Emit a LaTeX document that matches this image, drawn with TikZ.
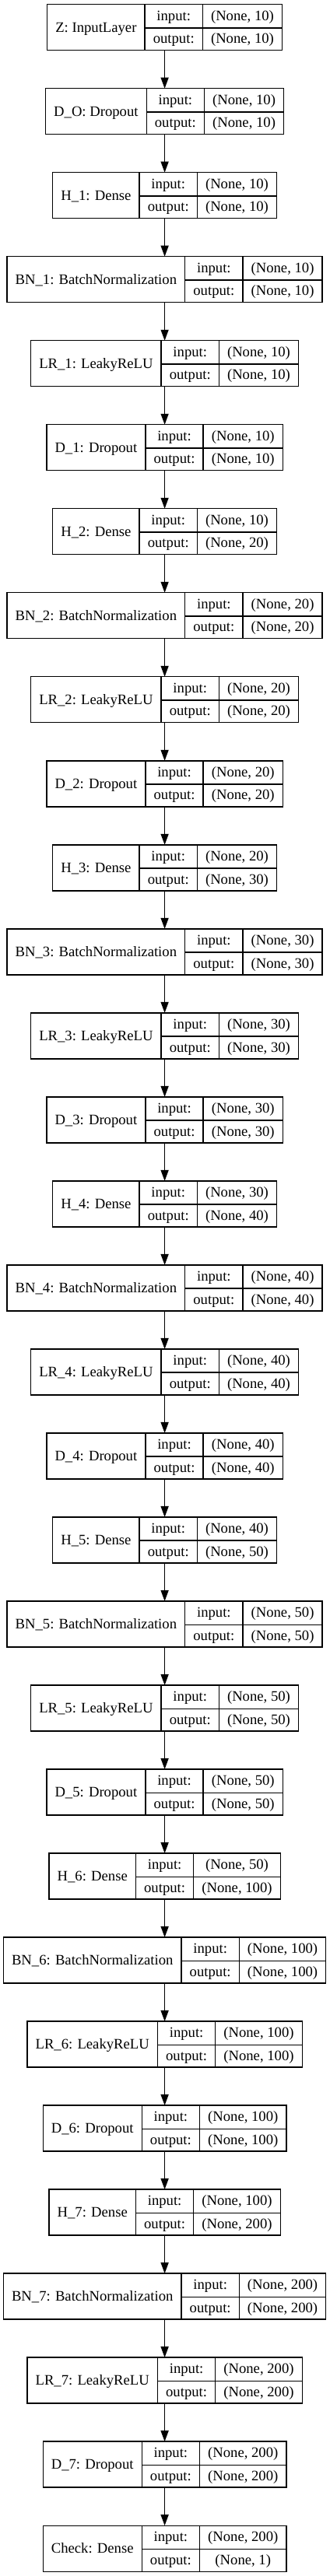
\documentclass[tikz,border=0pt]{standalone}
\usepackage{fontspec}
\setmainfont{Liberation Serif}
\usepackage{tikz}
\usetikzlibrary{positioning, arrows.meta}
\setlength{\arrayrulewidth}{1pt}
\setlength{\tabcolsep}{8pt}
\renewcommand{\arraystretch}{1.317}
% one keras layer: name | input/output | shapes
\newcommand{\kerasrec}[3]{%
  \begin{tabular}{c|c|c}
    \smash{\raisebox{-11.06pt}{#1}} & input: & #2\\ \cline{2-3}
    & output: & #3
  \end{tabular}}

\begin{document}
\begin{tikzpicture}[
  font=\fontsize{14}{16.8}\selectfont,
  node distance=36.76pt,
  layerbox/.style={draw=black, line width=1pt, inner sep=0pt, outer sep=0pt},
  flow/.style={-{Triangle[length=10.5pt, width=7.5pt]}, line width=1pt}
]
\useasboundingbox (-158.7pt,4.27pt) rectangle (159.3pt,-2478.98pt);

\node[layerbox, anchor=north] (z) at (0,0) {\kerasrec{Z: InputLayer}{(None, 10)}{(None, 10)}};
\node[layerbox, below=of z] (d0) {\kerasrec{D\_O: Dropout}{(None, 10)}{(None, 10)}};

\node[layerbox, below=of d0] (h1) {\kerasrec{H\_1: Dense}{(None, 10)}{(None, 10)}};
\node[layerbox, below=of h1] (bn1) {\kerasrec{BN\_1: BatchNormalization}{(None, 10)}{(None, 10)}};
\node[layerbox, below=of bn1] (lr1) {\kerasrec{LR\_1: LeakyReLU}{(None, 10)}{(None, 10)}};
\node[layerbox, below=of lr1] (d1) {\kerasrec{D\_1: Dropout}{(None, 10)}{(None, 10)}};

\node[layerbox, below=of d1] (h2) {\kerasrec{H\_2: Dense}{(None, 10)}{(None, 20)}};
\node[layerbox, below=of h2] (bn2) {\kerasrec{BN\_2: BatchNormalization}{(None, 20)}{(None, 20)}};
\node[layerbox, below=of bn2] (lr2) {\kerasrec{LR\_2: LeakyReLU}{(None, 20)}{(None, 20)}};
\node[layerbox, below=of lr2] (d2) {\kerasrec{D\_2: Dropout}{(None, 20)}{(None, 20)}};

\node[layerbox, below=of d2] (h3) {\kerasrec{H\_3: Dense}{(None, 20)}{(None, 30)}};
\node[layerbox, below=of h3] (bn3) {\kerasrec{BN\_3: BatchNormalization}{(None, 30)}{(None, 30)}};
\node[layerbox, below=of bn3] (lr3) {\kerasrec{LR\_3: LeakyReLU}{(None, 30)}{(None, 30)}};
\node[layerbox, below=of lr3] (d3) {\kerasrec{D\_3: Dropout}{(None, 30)}{(None, 30)}};

\node[layerbox, below=of d3] (h4) {\kerasrec{H\_4: Dense}{(None, 30)}{(None, 40)}};
\node[layerbox, below=of h4] (bn4) {\kerasrec{BN\_4: BatchNormalization}{(None, 40)}{(None, 40)}};
\node[layerbox, below=of bn4] (lr4) {\kerasrec{LR\_4: LeakyReLU}{(None, 40)}{(None, 40)}};
\node[layerbox, below=of lr4] (d4) {\kerasrec{D\_4: Dropout}{(None, 40)}{(None, 40)}};

\node[layerbox, below=of d4] (h5) {\kerasrec{H\_5: Dense}{(None, 40)}{(None, 50)}};
\node[layerbox, below=of h5] (bn5) {\kerasrec{BN\_5: BatchNormalization}{(None, 50)}{(None, 50)}};
\node[layerbox, below=of bn5] (lr5) {\kerasrec{LR\_5: LeakyReLU}{(None, 50)}{(None, 50)}};
\node[layerbox, below=of lr5] (d5) {\kerasrec{D\_5: Dropout}{(None, 50)}{(None, 50)}};

\node[layerbox, below=of d5] (h6) {\kerasrec{H\_6: Dense}{(None, 50)}{(None, 100)}};
\node[layerbox, below=of h6] (bn6) {\kerasrec{BN\_6: BatchNormalization}{(None, 100)}{(None, 100)}};
\node[layerbox, below=of bn6] (lr6) {\kerasrec{LR\_6: LeakyReLU}{(None, 100)}{(None, 100)}};
\node[layerbox, below=of lr6] (d6) {\kerasrec{D\_6: Dropout}{(None, 100)}{(None, 100)}};

\node[layerbox, below=of d6] (h7) {\kerasrec{H\_7: Dense}{(None, 100)}{(None, 200)}};
\node[layerbox, below=of h7] (bn7) {\kerasrec{BN\_7: BatchNormalization}{(None, 200)}{(None, 200)}};
\node[layerbox, below=of bn7] (lr7) {\kerasrec{LR\_7: LeakyReLU}{(None, 200)}{(None, 200)}};
\node[layerbox, below=of lr7] (d7) {\kerasrec{D\_7: Dropout}{(None, 200)}{(None, 200)}};

\node[layerbox, below=of d7] (check) {\kerasrec{Check: Dense}{(None, 200)}{(None, 1)}};

% connectors
\draw[flow] (z) -- (d0);
\draw[flow] (d0) -- (h1);
\draw[flow] (h1) -- (bn1);
\draw[flow] (bn1) -- (lr1);
\draw[flow] (lr1) -- (d1);
\draw[flow] (d1) -- (h2);
\draw[flow] (h2) -- (bn2);
\draw[flow] (bn2) -- (lr2);
\draw[flow] (lr2) -- (d2);
\draw[flow] (d2) -- (h3);
\draw[flow] (h3) -- (bn3);
\draw[flow] (bn3) -- (lr3);
\draw[flow] (lr3) -- (d3);
\draw[flow] (d3) -- (h4);
\draw[flow] (h4) -- (bn4);
\draw[flow] (bn4) -- (lr4);
\draw[flow] (lr4) -- (d4);
\draw[flow] (d4) -- (h5);
\draw[flow] (h5) -- (bn5);
\draw[flow] (bn5) -- (lr5);
\draw[flow] (lr5) -- (d5);
\draw[flow] (d5) -- (h6);
\draw[flow] (h6) -- (bn6);
\draw[flow] (bn6) -- (lr6);
\draw[flow] (lr6) -- (d6);
\draw[flow] (d6) -- (h7);
\draw[flow] (h7) -- (bn7);
\draw[flow] (bn7) -- (lr7);
\draw[flow] (lr7) -- (d7);
\draw[flow] (d7) -- (check);
\end{tikzpicture}
\end{document}
